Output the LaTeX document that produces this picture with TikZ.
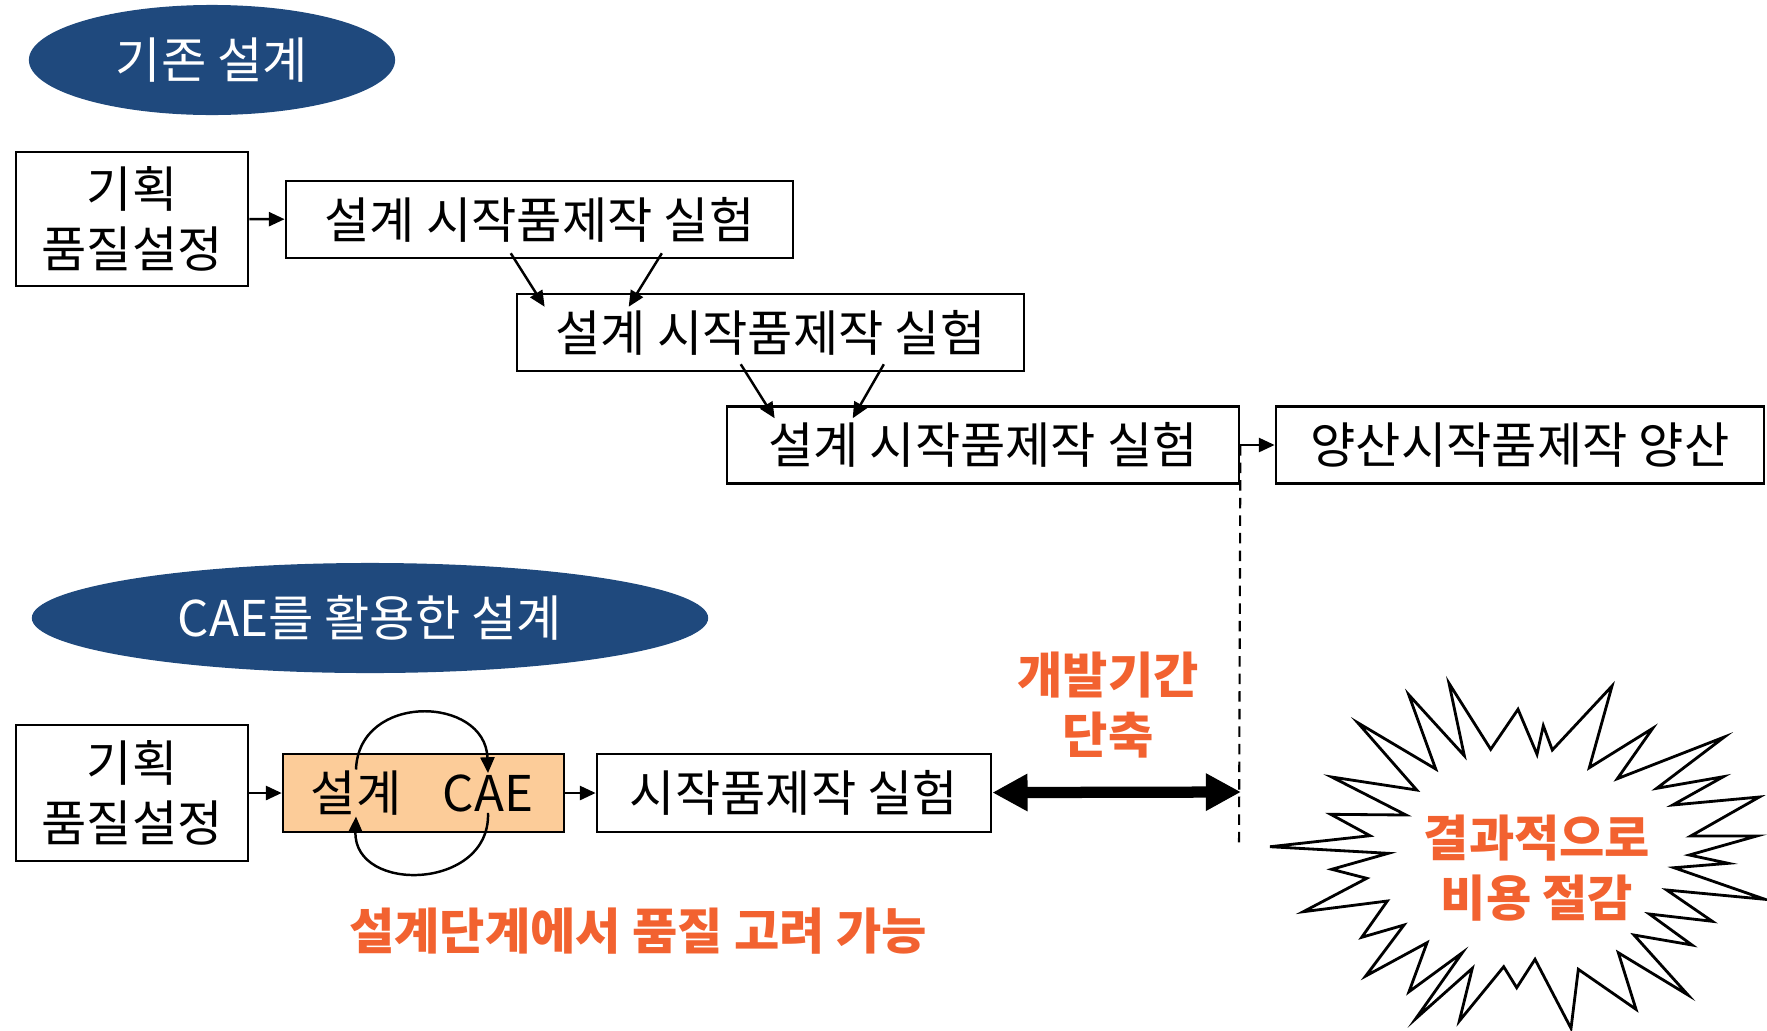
\documentclass[tikz,border=0pt]{standalone}
\usepackage{fontspec}
\setmainfont{Noto Sans CJK KR}
\usepackage{tikz}
\usetikzlibrary{arrows.meta,positioning,shapes.geometric}
\definecolor{tagblue}{RGB}{31,73,125}
\definecolor{noteorange}{RGB}{242,98,48}
\definecolor{caefill}{RGB}{252,204,153}

\begin{document}
\begin{tikzpicture}[x=0.01cm,y=-0.01cm,>={Triangle[length=4.5pt,width=4pt]},
		line width=0.7pt,font=\fontsize{14}{17}\selectfont,
		box node/.style={draw,rectangle,inner sep=0pt,minimum height=0.77cm},
		tag node/.style={ellipse,fill=tagblue,text=white,inner sep=0pt,minimum height=1.1cm},
		note text/.style={text=noteorange,font=\fontsize{14}{17}\selectfont\bfseries,align=center},
		big tip/.style={{Triangle[length=10pt,width=10pt]}-{Triangle[length=10pt,width=10pt]}}]
		\useasboundingbox (0,0) rectangle (1767,1030);
		
		% conventional design
		\node[tag node,minimum width=3.66cm] (oldtag) at (212,60) {기존 설계};
		\node[box node,minimum width=2.32cm,minimum height=1.34cm,align=center] (planA) at (132,219) {기획\\품질설정};
		\node[box node,minimum width=5.07cm] (exp1) at (539.5,219.5) {설계 시작품제작 실험};
		\node[box node,minimum width=5.07cm] (exp2) at (770.5,332.5) {설계 시작품제작 실험};
		\node[box node,minimum width=5.12cm] (exp3) at (983,445) {설계 시작품제작 실험};
		\node[box node,minimum width=4.88cm] (mass) at (1520,445) {양산시작품제작 양산};
		
		% design with CAE
		\node[tag node,minimum width=6.76cm] (caetag) at (370,618) {CAE를 활용한 설계};
		\node[box node,minimum width=2.32cm,minimum height=1.36cm,align=center] (planB) at (132,793) {기획\\품질설정};
		\node[box node,fill=caefill,minimum width=2.81cm,minimum height=0.78cm] (cbox) at (423.5,793) {};
		\node[inner sep=0pt] (sg) at (356,793) {설계};
		\node[inner sep=0pt] (cae) at (488,793) {CAE};
		\node[box node,minimum width=3.94cm,minimum height=0.78cm] (proto) at (794,793) {시작품제작 실험};
		
		\node[note text] (shorten) at (1108,705) {개발기간\\단축};
		\node[note text] (quality) at (638,931) {설계단계에서 품질 고려 가능};
		\coordinate (cut) at (1239,848);
		\coordinate (cutmid) at (1241,792);
		
		\path[->]
		(planA) edge (exp1)
		(exp3) edge (mass)
		(planB) edge (cbox)
		(cbox) edge (proto);
		\draw[->] ([xshift=2.26cm,yshift=0.06cm]exp1.south west) -- ([xshift=0.29cm,yshift=-0.14cm]exp2.north west);
		\draw[->] ([xshift=3.77cm,yshift=0.06cm]exp1.south west) -- ([xshift=1.13cm,yshift=-0.14cm]exp2.north west);
		\draw[->] ([xshift=2.25cm,yshift=0.08cm]exp2.south west) -- ([xshift=0.49cm,yshift=-0.13cm]exp3.north west);
		\draw[->] ([xshift=3.68cm,yshift=0.08cm]exp2.south west) -- ([xshift=1.27cm,yshift=-0.13cm]exp3.north west);
		\draw[->] (sg.north) to[out=88,in=92,looseness=1.5] (cae.north);
		\draw[->] (cae.south) to[out=-88,in=-92,looseness=1.5] (sg.south);
		\draw[line width=0.6pt,dash pattern=on 3pt off 2pt] (exp3.east) -- (cut);
		\draw[big tip,line width=3.2pt] (proto) -- (cutmid);
		
		% burst
		\draw[line width=0.8pt] (1270,846.7) -- (1370,835.7) -- (1330.7,814.3) -- (1406,815)
		-- (1331.7,777) -- (1416.7,790) -- (1357.7,722.7) -- (1435.7,769) -- (1408.7,694.7)
		-- (1464.3,755.7) -- (1449,683.3) -- (1490.7,749.3) -- (1518,709.3) -- (1537,754.3)
		-- (1543.3,725.7) -- (1552.3,750) -- (1612,686) -- (1589.3,767.7) -- (1652.7,728.3)
		-- (1617.3,778.7) -- (1724.3,737) -- (1656.7,788.3) -- (1723.3,776.7) -- (1672.7,805)
		-- (1759.3,797) -- (1690.7,836) -- (1756.7,836) -- (1689.3,855) -- (1728.3,863.3)
		-- (1674,867.7) -- (1765,899.3) -- (1666.7,890) -- (1712.3,921.3) -- (1649.3,914)
		-- (1692,945) -- (1634,935) -- (1688,995) -- (1618.3,952.7) -- (1636,1009.3)
		-- (1578.3,969.3) -- (1571,1028.3) -- (1535,959.3) -- (1516.7,987.7) -- (1503.7,966.7)
		-- (1459.3,1021) -- (1472.3,968.3) -- (1415.7,1018.7) -- (1462.3,952.7) -- (1409,991.7)
		-- (1427,942.7) -- (1365.7,976) -- (1404,925) -- (1361.7,937.3) -- (1387.3,901)
		-- (1303.3,911.7) -- (1366.7,878.3) -- (1331.7,869.3) -- (1388.3,853.3) -- cycle;
		\node[note text] (saving) at (1537,868) {결과적으로\\비용 절감};
\end{tikzpicture}
\end{document}
